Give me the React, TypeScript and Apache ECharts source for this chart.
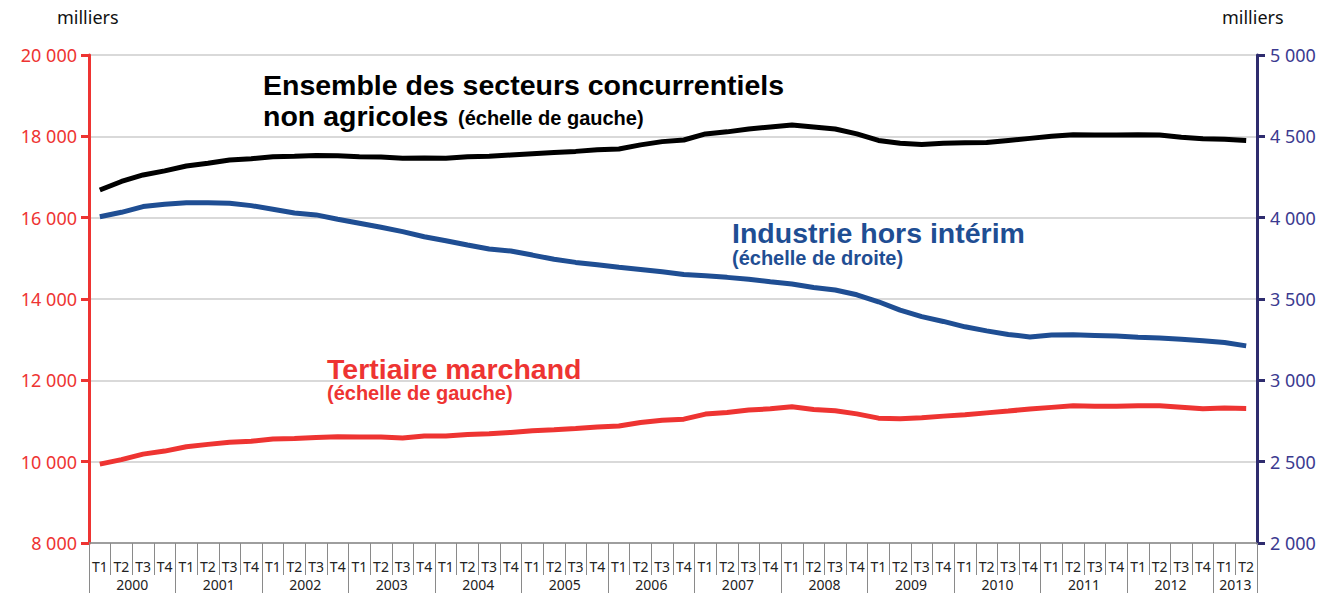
import React, { useEffect, useRef } from "react";
import * as echarts from "echarts";

const years = ["2000","2001","2002","2003","2004","2005","2006","2007","2008","2009","2010","2011","2012","2013"];
const quarters: string[] = [];
years.forEach((y) => {
  const n = y === "2013" ? 2 : 4;
  for (let q = 1; q <= n; q++) quarters.push("T" + q);
});

// Ensemble des secteurs concurrentiels non agricoles (left scale, thousands)
const ensemble = [
  16680, 16890, 17050, 17150, 17270, 17340, 17420, 17450, 17500, 17510,
  17530, 17520, 17500, 17490, 17460, 17470, 17460, 17500, 17510, 17540,
  17570, 17600, 17630, 17670, 17690, 17790, 17870, 17910, 18060, 18110,
  18180, 18230, 18280, 18230, 18180, 18060, 17900, 17830, 17800, 17830,
  17840, 17850, 17900, 17950, 18000, 18040, 18030, 18030, 18040, 18030,
  17980, 17940, 17930, 17900,
];

// Industrie hors intérim (right scale, thousands)
const industrie = [
  4006, 4033, 4068, 4083, 4092, 4092, 4089, 4074, 4052, 4029,
  4017, 3990, 3966, 3941, 3914, 3883, 3858, 3832, 3807, 3795,
  3770, 3744, 3725, 3711, 3695, 3682, 3667, 3651, 3643, 3633,
  3621, 3606, 3592, 3571, 3555, 3526, 3483, 3432, 3392, 3362,
  3329, 3304, 3282, 3267, 3278, 3280, 3276, 3272, 3265, 3260,
  3253, 3243, 3232, 3212,
];

// Tertiaire marchand (left scale, thousands)
const tertiaire = [
  9940, 10050, 10185, 10260, 10365, 10425, 10480, 10500, 10555, 10570,
  10595, 10610, 10605, 10605, 10580, 10630, 10630, 10670, 10685, 10720,
  10760, 10785, 10815, 10850, 10875, 10965, 11020, 11045, 11170, 11210,
  11270, 11300, 11350, 11285, 11250, 11175, 11070, 11055, 11080, 11120,
  11155, 11200, 11245, 11295, 11335, 11375, 11365, 11365, 11375, 11375,
  11340, 11300, 11320, 11310,
];

// Year row: 55 boundary positions (boundaryGap false), year names at group centres
const yearRow: string[] = [];
for (let k = 0; k <= quarters.length; k++) yearRow.push("");
years.forEach((y, i) => {
  const start = i * 4;
  const n = y === "2013" ? 2 : 4;
  yearRow[start + n / 2] = y;
});
const yearBoundaries = new Set<number>();
years.forEach((y, i) => yearBoundaries.add(i * 4));
yearBoundaries.add(quarters.length);

const fmt = (v: number) => String(v).replace(/\B(?=(\d{3})+(?!\d))/g, " ");

const RED = "#ee3432";
const BLUE = "#1f4e93";
const NAVY = "#2e2c6e";
const NAVY_LABEL = "#3b3a90";
const GRID = "#cccccc";
const AXIS_GRAY = "#8a8a8a";
const FONT = "'Noto Sans', 'Open Sans', sans-serif";
const TFONT = "'Liberation Sans', Arial, sans-serif";

const title = (text: string, x: number, y: number, size: number, fill: string) => ({
  type: "text",
  x,
  y,
  style: { text, fontSize: size, fontWeight: "bold", fill, fontFamily: TFONT },
});

export default function App() {
  const ref = useRef<HTMLDivElement>(null);
  useEffect(() => {
    if (!ref.current) return;
    const chart = echarts.init(ref.current, null, { renderer: "svg" });
    chart.setOption({
      animation: false,
      backgroundColor: "#ffffff",
      grid: { left: 89, right: 70, top: 55, bottom: 50, containLabel: false },
      xAxis: [
        {
          type: "category",
          data: quarters,
          boundaryGap: true,
          position: "bottom",
          axisLine: { show: true, lineStyle: { color: AXIS_GRAY, width: 1.5 } },
          axisTick: { show: true, interval: 0, length: 32, lineStyle: { color: AXIS_GRAY, width: 1 } },
          axisLabel: { interval: 0, margin: 16, fontSize: 14, lineHeight: 14, color: "#222", fontFamily: FONT },
          splitLine: { show: false },
        },
        {
          type: "category",
          data: yearRow,
          boundaryGap: false,
          position: "bottom",
          axisLine: { show: false },
          axisTick: {
            show: true,
            interval: (index: number) => yearBoundaries.has(index),
            length: 52,
            lineStyle: { color: AXIS_GRAY, width: 1 },
          },
          axisLabel: {
            interval: (index: number, value: string) => value !== "",
            margin: 34,
            fontSize: 14,
            lineHeight: 14,
            color: "#222",
            fontFamily: FONT,
          },
          splitLine: { show: false },
        },
      ],
      yAxis: [
        {
          type: "value",
          position: "left",
          min: 8000,
          max: 20000,
          interval: 2000,
          axisLine: { show: true, lineStyle: { color: RED, width: 3 } },
          axisTick: { show: true, inside: false, length: 8, lineStyle: { color: RED, width: 3 } },
          axisLabel: { formatter: fmt, color: RED, fontSize: 18, margin: 12, fontFamily: FONT },
          splitLine: { show: true, lineStyle: { color: GRID, width: 1.5 } },
        },
        {
          type: "value",
          position: "right",
          min: 2000,
          max: 5000,
          interval: 500,
          axisLine: { show: true, lineStyle: { color: NAVY, width: 3 } },
          axisTick: { show: true, inside: false, length: 8, lineStyle: { color: NAVY, width: 3 } },
          axisLabel: { formatter: fmt, color: NAVY_LABEL, fontSize: 18, margin: 13, fontFamily: FONT },
          splitLine: { show: false },
        },
      ],
      series: [
        {
          name: "Tertiaire marchand",
          type: "line",
          data: tertiaire,
          yAxisIndex: 0,
          xAxisIndex: 0,
          symbol: "none",
          smooth: false,
          lineStyle: { color: RED, width: 5 },
        },
        {
          name: "Industrie hors intérim",
          type: "line",
          data: industrie,
          yAxisIndex: 1,
          xAxisIndex: 0,
          symbol: "none",
          smooth: false,
          lineStyle: { color: BLUE, width: 5 },
        },
        {
          name: "Ensemble des secteurs concurrentiels non agricoles",
          type: "line",
          data: ensemble,
          yAxisIndex: 0,
          xAxisIndex: 0,
          symbol: "none",
          smooth: false,
          lineStyle: { color: "#000000", width: 5 },
        },
      ],
      graphic: [
        { type: "text", x: 57, y: 8, style: { text: "milliers", fontSize: 18, fill: "#111", fontFamily: FONT } },
        { type: "text", x: 1222, y: 8, style: { text: "milliers", fontSize: 18, fill: "#111", fontFamily: FONT } },
        title("Ensemble des secteurs concurrentiels", 263, 70, 28.5, "#000"),
        title("non agricoles", 263, 101, 28.5, "#000"),
        title("(échelle de gauche)", 458, 108, 20, "#000"),
        title("Industrie hors intérim", 732, 218, 28.5, BLUE),
        title("(échelle de droite)", 732, 248, 20, BLUE),
        title("Tertiaire marchand", 327, 354, 28.5, RED),
        title("(échelle de gauche)", 327, 383, 20, RED),
      ],
    });
    return () => chart.dispose();
  }, []);
  return (
    <div
      ref={ref}
      style={{ position: "absolute", left: 0, top: 0, width: 1327, height: 593, background: "#fff" }}
    />
  );
}
